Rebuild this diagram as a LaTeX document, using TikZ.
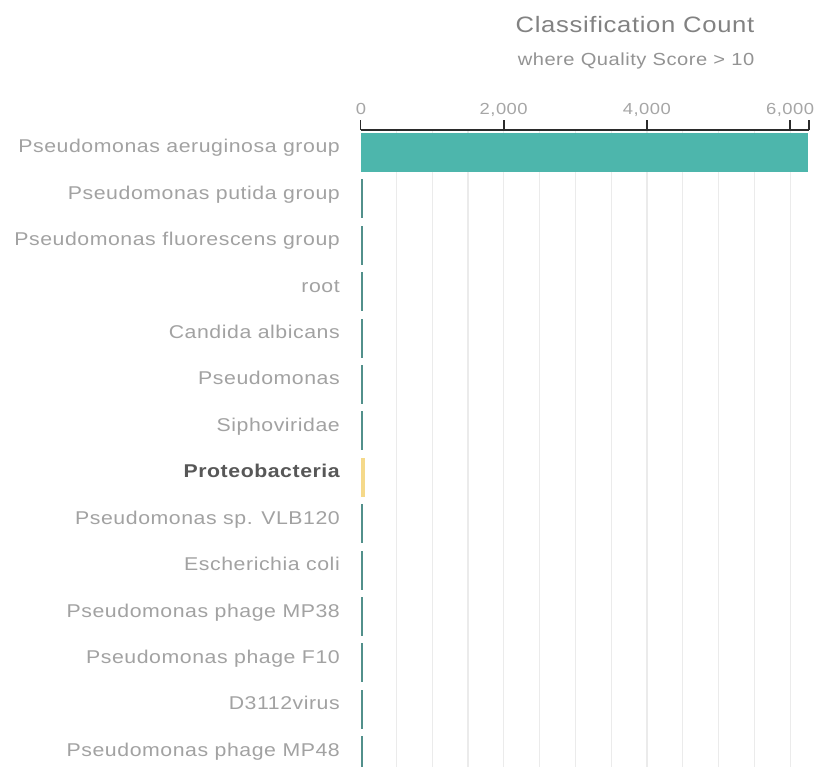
\documentclass[tikz,border=0pt]{standalone}
\usepackage{fontspec}
\setmainfont{Liberation Sans}[FakeStretch=1.15,LetterSpace=3]
\definecolor{titlegray}{HTML}{828282}
\definecolor{subgray}{HTML}{939393}
\definecolor{labelgray}{HTML}{A2A2A2}
\definecolor{boldgray}{HTML}{575757}
\definecolor{tickgray}{HTML}{A6A6A6}
\definecolor{axisdark}{HTML}{2B2B2B}
\definecolor{gridgray}{HTML}{EBEBEB}
\definecolor{barteal}{HTML}{4DB6AC}
\definecolor{thinteal}{HTML}{52908B}
\definecolor{hiyellow}{HTML}{F5D98A}
\tikzset{
  rowlabel/.style={anchor=base east, inner sep=0pt, text=labelgray, font=\fontsize{18.5}{20}\selectfont},
  boldlabel/.style={anchor=base east, inner sep=0pt, text=boldgray, font=\fontsize{18.5}{20}\selectfont\bfseries},
  ticklabel/.style={anchor=base, inner sep=0pt, text=tickgray, font=\fontsize{16}{18}\selectfont},
  gridline/.style={draw=gridgray, line width=1.2pt},
  axisline/.style={draw=axisdark, line width=2pt},
  tickmark/.style={draw=axisdark, line width=1.6pt},
}
\begin{document}
\begin{tikzpicture}[x=1pt,y=-1pt]
\useasboundingbox (0,0) rectangle (815,767);
\fill[white] (0,0) rectangle (815,767);
% title
\node[anchor=base, inner sep=0pt, text=titlegray, font=\fontsize{22.3}{24}\selectfont] (title) at (635,33) {Classification Count};
\node[anchor=base, inner sep=0pt, text=subgray, font=\fontsize{17.5}{20}\selectfont] (subtitle) at (636,66) {where Quality Score > 10};
% grid
\foreach \k in {1,...,12} {
  \draw[gridline] ({360.5+35.8*\k},131) -- ({360.5+35.8*\k},767);
}
% axis
\coordinate (ax0) at (360.5,130);
\coordinate (axend) at (809,130);
\draw[axisline] (ax0) -- (axend);
\foreach \v/\x in {0/360.5,2000/503.7,4000/646.9,6000/790.1} {
  \coordinate (t\v) at (\x,130);
  \draw[tickmark] (t\v) -- ++(0,-10);
}
\draw[tickmark] (axend) -- ++(0,-10);
\node[ticklabel] (tl0) at (361,115) {0};
\node[ticklabel] (tl2) at (503.7,115) {2,000};
\node[ticklabel] (tl4) at (646.9,115) {4,000};
\node[ticklabel] (tl6) at (790.1,115) {6,000};
% bars and labels
\foreach \name [count=\i from 0] in {Pseudomonas aeruginosa group,Pseudomonas putida group,Pseudomonas fluorescens group,root,Candida albicans,Pseudomonas,Siphoviridae,Proteobacteria,Pseudomonas sp. VLB120,Escherichia coli,Pseudomonas phage MP38,Pseudomonas phage F10,D3112virus,Pseudomonas phage MP48} {
  \ifnum\i=7
    \node[boldlabel] (l\i) at (340,{153+46.4*\i}) {\name};
    \fill[hiyellow] (360.5,{133+46.4*\i}) rectangle ++(4.5,39);
  \else
    \node[rowlabel] (l\i) at (340,{153+46.4*\i}) {\name};
    \ifnum\i=0
      \fill[barteal] (360.5,133) rectangle (808,172);
    \else
      \fill[thinteal] (360.5,{133+46.4*\i}) rectangle ++(2.6,39);
    \fi
  \fi
}
\end{tikzpicture}
\end{document}
